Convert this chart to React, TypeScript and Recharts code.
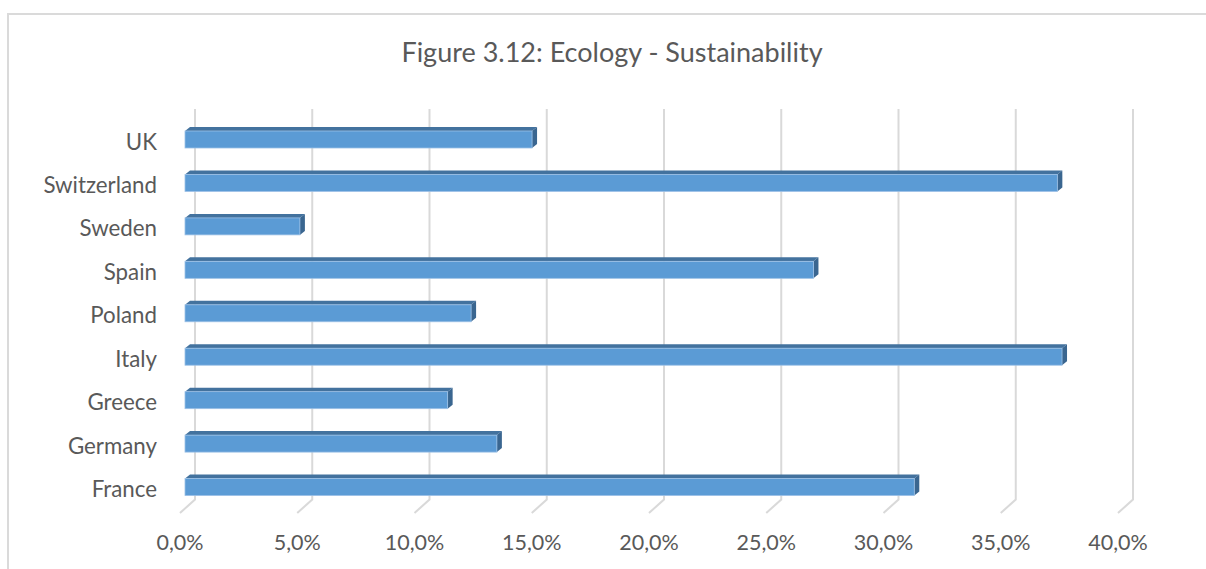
import React from 'react';
import { BarChart, Bar, XAxis, YAxis, CartesianGrid } from 'recharts';

// top to bottom as drawn
const countries = ['UK', 'Switzerland', 'Sweden', 'Spain', 'Poland', 'Italy', 'Greece', 'Germany', 'France'];
const shares = [14.8, 37.2, 4.9, 26.8, 12.2, 37.4, 11.2, 13.3, 31.1];
const xTicks = [0, 5, 10, 15, 20, 25, 30, 35, 40];

const W = 1206;
const H = 569;
const MARGIN = { top: 118, right: 83, bottom: 0, left: 125 };
const GRID_TOP = 109;
const FONT = 'Lato, "Open Sans", sans-serif';
const TEXT = '#595959';
const GRID = '#d9d9d9';

// 3D depth of the bars
const DX = 5;
const DY = 4;

const data = countries.map((c, i) => ({ country: c, share: shares[i] }));

const fmt = (v: number) => v.toFixed(1).replace('.', ',') + '%';

const Bar3D = (props: any) => {
  const { x, y, width, height } = props;
  if (width == null || width <= 0) return null;
  const r = x + width;
  return (
    <g>
      <polygon
        points={`${x},${y} ${x + DX},${y - DY} ${r + DX},${y - DY} ${r},${y}`}
        fill="#43729e"
      />
      <polygon
        points={`${r},${y} ${r + DX},${y - DY} ${r + DX},${y + height - DY} ${r},${y + height}`}
        fill="#3a6690"
      />
      <rect x={x} y={y} width={width} height={height} fill="#5b9bd5" stroke="#9cc0e6" strokeWidth={0.8} />
    </g>
  );
};

// back wall gridline plus the slanted floor segment
const GridLine3D = (props: any) => {
  const { x1, y2 } = props;
  const fx = x1 - 5;
  const fy = y2 + 4;
  const bx = x1 + 10;
  const by = y2 - 9.5;
  return (
    <polyline
      key={props.key}
      points={`${fx},${fy} ${bx},${by} ${bx},${GRID_TOP}`}
      fill="none"
      stroke={GRID}
      strokeWidth={2}
    />
  );
};

const XTick = (props: any) => {
  const { x, y, payload } = props;
  return (
    <text x={x - 5} y={y + 33} dy="0.35em" textAnchor="middle" fill={TEXT} fontSize={21.5} fontFamily={FONT}>
      {fmt(payload.value)}
    </text>
  );
};

const YTick = (props: any) => {
  const { x, y, payload } = props;
  return (
    <text x={x - 28} y={y + 2} dy="0.35em" textAnchor="end" fill={TEXT} fontSize={22.3} fontFamily={FONT}>
      {payload.value}
    </text>
  );
};

export default function App() {
  return (
    <div style={{ position: 'fixed', left: 0, top: 0, width: W, height: H, overflow: 'hidden', background: '#fff' }}>
      <div
        style={{
          position: 'absolute',
          left: 7,
          top: 13,
          width: 2000,
          height: 2000,
          border: '2px solid #dadada',
          boxSizing: 'border-box',
        }}
      />
      <div
        style={{
          position: 'absolute',
          left: 0,
          top: 35,
          width: 1224,
          textAlign: 'center',
          fontFamily: FONT,
          fontSize: 27,
          lineHeight: '34px',
          color: TEXT,
        }}
      >
        Figure 3.12: Ecology - Sustainability
      </div>
      <div style={{ position: 'absolute', left: 0, top: 0 }}>
        <BarChart width={W} height={H} data={data} layout="vertical" margin={MARGIN}>
          <CartesianGrid horizontal={false} vertical={GridLine3D} />
          <XAxis
            type="number"
            dataKey="share"
            domain={[0, 40]}
            ticks={xTicks}
            interval={0}
            height={60}
            axisLine={false}
            tickLine={false}
            tickSize={0}
            tickMargin={0}
            tick={XTick}
          />
          <YAxis
            type="category"
            dataKey="country"
            width={60}
            axisLine={false}
            tickLine={false}
            tickSize={0}
            tickMargin={0}
            interval={0}
            tick={YTick}
          />
          <Bar dataKey="share" barSize={17} shape={Bar3D} isAnimationActive={false} />
        </BarChart>
      </div>
    </div>
  );
}
